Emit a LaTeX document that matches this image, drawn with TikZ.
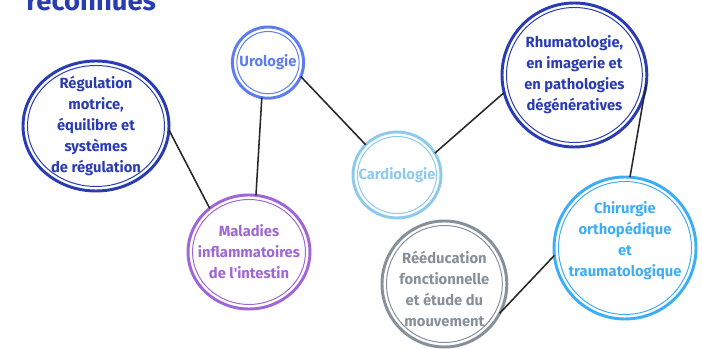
\documentclass[tikz,border=0pt]{standalone}
\usepackage{fontspec}
\setmainfont{Fira Sans}
\usetikzlibrary{shapes.geometric, calc}
\definecolor{regblue}{HTML}{2A3CB4}
\definecolor{uroblue}{HTML}{5C7CF0}
\definecolor{malpurple}{HTML}{9F66D4}
\definecolor{carblue}{HTML}{8EC9EE}
\definecolor{reegray}{HTML}{86909A}
\definecolor{chiblue}{HTML}{3DAEF5}
\tikzset{
  ring/.style = {ellipse, draw=#1, line width=2.1pt, outer sep=0pt, inner sep=0pt},
  ringtext/.style = {text=#1, align=center, inner sep=0pt,
    font=\fontsize{10.5}{15}\selectfont\bfseries},
  link/.style = {draw=black!85, line width=1.1pt}
}

\begin{document}
\begin{tikzpicture}[scale=1]
\useasboundingbox (0, 0) rectangle (17.55, 8.725);
\clip (0, 0) rectangle (17.55, 8.725);

% cut-off heading
\node[anchor=base west, inner sep=0pt, text=regblue,
  font=\fontsize{19.5}{20}\selectfont\bfseries] (title) at (0.65, 8.45) {reconnues};

% rings
\node[ring=regblue, minimum width=3.65cm, minimum height=3.25cm] (reg) at (2.4, 5.575) {};
\node[ring=uroblue, minimum width=1.78cm, minimum height=1.78cm] (uro) at (6.7, 7.16) {};
\node[ring=malpurple, minimum width=3.05cm, minimum height=2.85cm] (mal) at (6.225, 2.425) {};
\node[ring=carblue, minimum width=2.2cm, minimum height=2.15cm] (car) at (9.925, 4.35) {};
\node[ring=regblue, minimum width=3.62cm, minimum height=3.6cm] (rhu) at (14.36, 6.85) {};
\node[ring=reegray, minimum width=3.12cm, minimum height=3.15cm] (ree) at (11.11, 1.625) {};
\node[ring=chiblue, minimum width=3.55cm, minimum height=3.55cm] (chi) at (15.625, 2.525) {};

% thin inner rings
\foreach \nm/\c in {reg/regblue, uro/uroblue, mal/malpurple, car/carblue,
                   rhu/regblue, ree/reegray, chi/chiblue}
  \draw[\c, line width=0.7pt]
    let \p1 = ($(\nm.east)-(\nm.center)$), \p2 = ($(\nm.north)-(\nm.center)$) in
    (\nm.center) ellipse [x radius=\x1-3.2pt, y radius=\y2-3.2pt];

% texts
\node[ringtext=regblue] (regtxt) at (reg) {Régulation\\motrice,\\équilibre et\\systèmes\\de régulation};
\node[ringtext=uroblue] (urotxt) at (uro) {Urologie};
\node[ringtext=malpurple] (maltxt) at (mal) {Maladies\\inflammatoires\\de l\textquotesingle intestin};
\node[ringtext=carblue] (cartxt) at (car) {Cardiologie};
\node[ringtext=regblue] (rhutxt) at (rhu) {Rhumatologie,\\en imagerie et\\en pathologies\\dégénératives};
\node[ringtext=reegray, yshift=-0.125cm] (reetxt) at (ree) {Rééducation\\fonctionnelle\\et étude du\\mouvement};
\node[ringtext=chiblue, yshift=0.175cm] (chitxt) at (chi) {Chirurgie\\orthopédique\\et\\traumatologique};

% links
\draw[link] (reg.-3) -- (mal.132);
\draw[link] (uro.-100) -- (mal.83);
\draw[link] (uro.-23) -- (car.136);
\draw[link] (car.30) -- (rhu.194);
\draw[link] (rhu.-7) -- (chi.86);
\draw[link] (ree.-28) -- (chi.186);
\end{tikzpicture}
\end{document}
